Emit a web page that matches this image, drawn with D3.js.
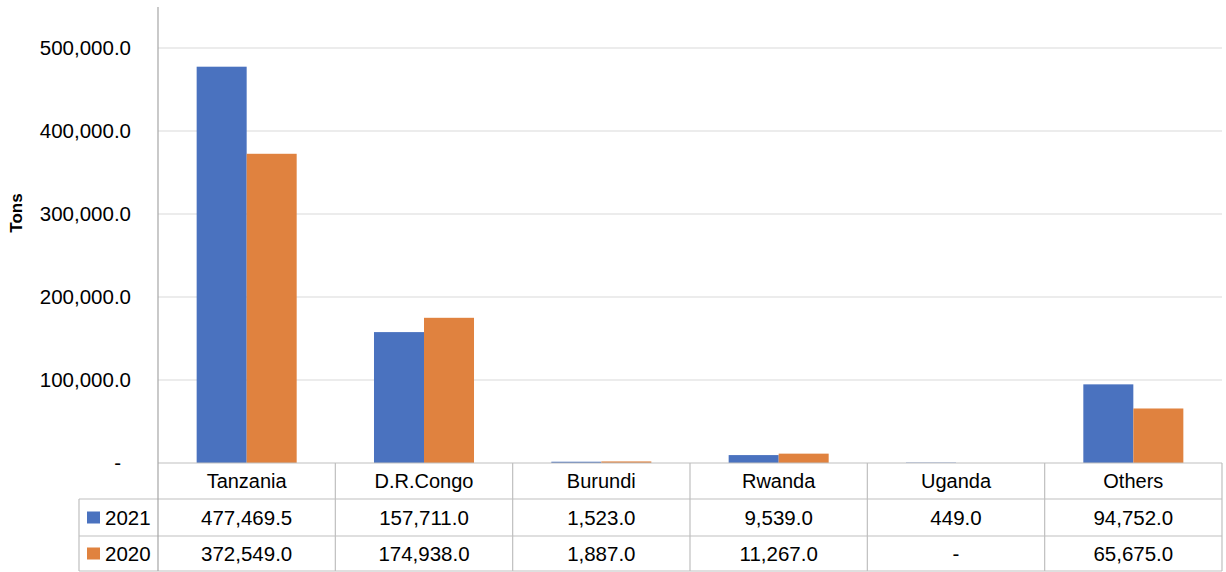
<!DOCTYPE html>
<html>
<head>
<meta charset="utf-8">
<script src="https://cdn.jsdelivr.net/npm/d3@7"></script>
<style>
  html, body { margin: 0; padding: 0; background: #ffffff; }
  svg { display: block; font-family: "Liberation Sans", Arial, sans-serif; }
</style>
</head>
<body>
<svg id="chart" width="1226" height="572"></svg>
<script>
const categories = ["Tanzania", "D.R.Congo", "Burundi", "Rwanda", "Uganda", "Others"];
const seriesNames = ["2021", "2020"];
const values2021 = [477469.5, 157711.0, 1523.0, 9539.0, 449.0, 94752.0];
const values2020 = [372549.0, 174938.0, 1887.0, 11267.0, null, 65675.0];
const yTicks = [0, 100000, 200000, 300000, 400000, 500000];
const colors = ["#4a72bf", "#e0823f"];
const yTitle = "Tons";

const seriesValues = [values2021, values2020];

(function () {
const svg = d3.select("#chart");
const plotLeft = 158, plotRight = 1222, plotTop = 48, base = 463;
const rowH = [463, 499, 536, 571];
const legendLeft = 79;

const x = d3.scaleBand().domain(categories).range([plotLeft, plotRight]).padding(0);
const xs = d3.scaleBand().domain(seriesNames).range([0, x.bandwidth()])
  .paddingInner(0).paddingOuter(0.773);
const y = d3.scaleLinear().domain([0, 500000]).range([base, plotTop]);

const fmt = d3.format(",.1f");

// gridlines
svg.append("g").selectAll("line").data(yTicks.filter(d => d > 0)).join("line")
  .attr("x1", plotLeft).attr("x2", plotRight)
  .attr("y1", d => y(d)).attr("y2", d => y(d))
  .attr("stroke", "#d9d9d9").attr("stroke-width", 1.2);

// y tick labels
svg.append("g").selectAll("text").data(yTicks).join("text")
  .attr("x", d => d === 0 ? 121 : 131)
  .attr("y", d => y(d))
  .attr("dy", "0.35em")
  .attr("text-anchor", "end")
  .attr("font-size", 20.5)
  .attr("fill", "#000")
  .text(d => d === 0 ? "-" : fmt(d));

// y title
svg.append("text")
  .attr("transform", `translate(22,213) rotate(-90)`)
  .attr("text-anchor", "middle")
  .attr("font-size", 17)
  .attr("font-weight", "bold")
  .text(yTitle);

// bars
const groups = svg.append("g").selectAll("g").data(seriesNames).join("g")
  .attr("fill", (d, i) => colors[i]);
groups.selectAll("rect")
  .data((s, si) => categories.map((c, ci) => ({ c, s, v: seriesValues[si][ci] })).filter(d => d.v != null))
  .join("rect")
  .attr("x", d => x(d.c) + xs(d.s))
  .attr("width", xs.bandwidth())
  .attr("y", d => y(d.v))
  .attr("height", d => base - y(d.v));

// table lines
const tl = svg.append("g").attr("stroke", "#bfbfbf").attr("stroke-width", 1.2);
tl.append("line").attr("x1", plotLeft).attr("x2", plotRight).attr("y1", rowH[0]).attr("y2", rowH[0]);
[1, 2, 3].forEach(i => {
  tl.append("line").attr("x1", legendLeft).attr("x2", plotRight).attr("y1", rowH[i]).attr("y2", rowH[i]);
});
tl.append("line").attr("x1", plotLeft).attr("x2", plotLeft).attr("y1", 7).attr("y2", rowH[3]).attr("stroke", "#a6a6a6");
tl.append("line").attr("x1", legendLeft).attr("x2", legendLeft).attr("y1", rowH[1]).attr("y2", rowH[3]);
categories.forEach(c => {
  const xe = x(c) + x.bandwidth();
  tl.append("line").attr("x1", xe).attr("x2", xe).attr("y1", rowH[0]).attr("y2", rowH[3]);
});

// category labels
svg.append("g").selectAll("text").data(categories).join("text")
  .attr("x", d => x(d) + x.bandwidth() / 2)
  .attr("y", (rowH[0] + rowH[1]) / 2)
  .attr("dy", "0.35em")
  .attr("text-anchor", "middle")
  .attr("font-size", 20)
  .text(d => d);

// value rows
seriesNames.forEach((s, si) => {
  const cy = (rowH[si + 1] + rowH[si + 2]) / 2;
  svg.append("rect").attr("x", 87).attr("y", cy - 6).attr("width", 13).attr("height", 12)
    .attr("fill", colors[si]);
  svg.append("text").attr("x", 105).attr("y", cy).attr("dy", "0.35em")
    .attr("font-size", 20.5).text(s);
  svg.append("g").selectAll("text").data(categories).join("text")
    .attr("x", d => x(d) + x.bandwidth() / 2)
    .attr("y", cy)
    .attr("dy", "0.35em")
    .attr("text-anchor", "middle")
    .attr("font-size", 20.5)
    .text((d, ci) => seriesValues[si][ci] == null ? "-" : fmt(seriesValues[si][ci]));
});
})();
</script>
</body>
</html>
